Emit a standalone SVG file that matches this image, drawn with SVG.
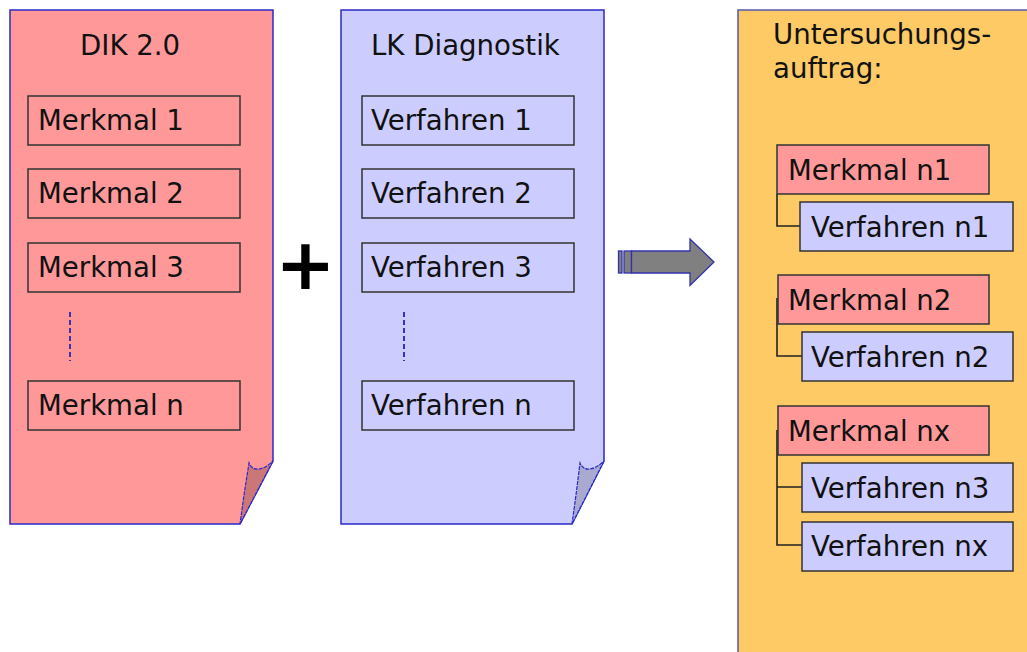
<svg xmlns="http://www.w3.org/2000/svg" width="1027" height="652" viewBox="0 0 1027 652">
  <style>
    text { font-family: "DejaVu Sans", Verdana, sans-serif; font-size: 27.6px; fill: #111; }
    .page { stroke: #2a2ac8; stroke-width: 1.5; }
    .pink { fill: #ff9999; }
    .lilac { fill: #ccccff; }
    .fold { stroke: #2a2ac8; stroke-width: 1.2; stroke-dasharray: 4 1; }
    .box { stroke: #333; stroke-width: 1.5; }
    .dots { stroke: #3d2fb0; stroke-width: 2; stroke-dasharray: 5 3; fill: none; }
    .link { stroke: #222; stroke-width: 1.6; fill: none; }
  </style>

  <!-- left sheet: DIK 2.0 -->
  <g id="sheet-dik">
    <path class="page pink" d="M10,10 H273 V461 L240,524 H10 Z"/>
    <path class="fold" fill="#cc7777" d="M273,461 L240,524 L244,495 L249,463 Q252,470 259,469 Q266,468 273,461 Z"/>
    <text x="80" y="55">DIK 2.0</text>
  </g>
  <g id="merkmal-1"><rect class="box pink" x="28" y="96" width="212" height="49"/><text x="38" y="130">Merkmal 1</text></g>
  <g id="merkmal-2"><rect class="box pink" x="28" y="169" width="212" height="49"/><text x="38" y="203">Merkmal 2</text></g>
  <g id="merkmal-3"><rect class="box pink" x="28" y="243" width="212" height="49"/><text x="38" y="277">Merkmal 3</text></g>
  <line class="dots" x1="70" y1="312" x2="70" y2="361"/>
  <g id="merkmal-n"><rect class="box pink" x="28" y="381" width="212" height="49"/><text x="38" y="415">Merkmal n</text></g>

  <!-- plus sign between the sheets -->
  <g id="plus">
    <text x="305.5" y="289" text-anchor="middle" style="font-size:72px;font-weight:bold;fill:#000">+</text>
  </g>

  <!-- middle sheet: LK Diagnostik -->
  <g id="sheet-lk">
    <path class="page lilac" d="M341,10 H604 V461 L572,524 H341 Z"/>
    <path class="fold" fill="#aaaad0" d="M604,461 L572,524 L576,495 L580,463 Q583,470 590,469 Q597,468 604,461 Z"/>
    <text x="371" y="55">LK Diagnostik</text>
  </g>
  <g id="verfahren-1"><rect class="box lilac" x="362" y="96" width="212" height="49"/><text x="371" y="130">Verfahren 1</text></g>
  <g id="verfahren-2"><rect class="box lilac" x="362" y="169" width="212" height="49"/><text x="371" y="203">Verfahren 2</text></g>
  <g id="verfahren-3"><rect class="box lilac" x="362" y="243" width="212" height="49"/><text x="371" y="277">Verfahren 3</text></g>
  <line class="dots" x1="404" y1="312" x2="404" y2="361"/>
  <g id="verfahren-n"><rect class="box lilac" x="362" y="381" width="212" height="49"/><text x="371" y="415">Verfahren n</text></g>

  <!-- block arrow -->
  <g id="arrow" fill="#808080" stroke="#3333aa" stroke-width="1.3">
    <rect x="618.5" y="251" width="3.5" height="22"/>
    <rect x="624" y="251" width="7.5" height="22"/>
    <path d="M631.5,251 H690 V239 L714,262 L690,285.5 V273 H631.5 Z"/>
  </g>

  <!-- order panel -->
  <g id="panel">
    <rect x="738" y="10" width="300" height="660" fill="#fdca66" stroke="#5555b0" stroke-width="1.5"/>
    <text x="773" y="44">Untersuchungs-</text>
    <text x="773" y="78">auftrag:</text>
  </g>

  <g id="connectors">
    <path class="link" d="M777,194 V226 H800"/>
    <path class="link" d="M777,298 V356 H802"/>
    <path class="link" d="M777,430 V545 H802 M777,487 H802"/>
  </g>

  <g id="merkmal-n1"><rect class="box pink" x="777" y="145" width="212" height="49"/><text x="788" y="180">Merkmal n1</text></g>
  <g id="verfahren-n1"><rect class="box lilac" x="800" y="202" width="213" height="49"/><text x="811" y="237">Verfahren n1</text></g>
  <g id="merkmal-n2"><rect class="box pink" x="778" y="275" width="211" height="49"/><text x="788" y="310">Merkmal n2</text></g>
  <g id="verfahren-n2"><rect class="box lilac" x="802" y="332" width="211" height="49"/><text x="811" y="367">Verfahren n2</text></g>
  <g id="merkmal-nx"><rect class="box pink" x="778" y="406" width="211" height="49"/><text x="788" y="441">Merkmal nx</text></g>
  <g id="verfahren-n3"><rect class="box lilac" x="802" y="463" width="211" height="49"/><text x="811" y="498">Verfahren n3</text></g>
  <g id="verfahren-nx"><rect class="box lilac" x="802" y="522" width="211" height="49"/><text x="811" y="556">Verfahren nx</text></g>
</svg>
